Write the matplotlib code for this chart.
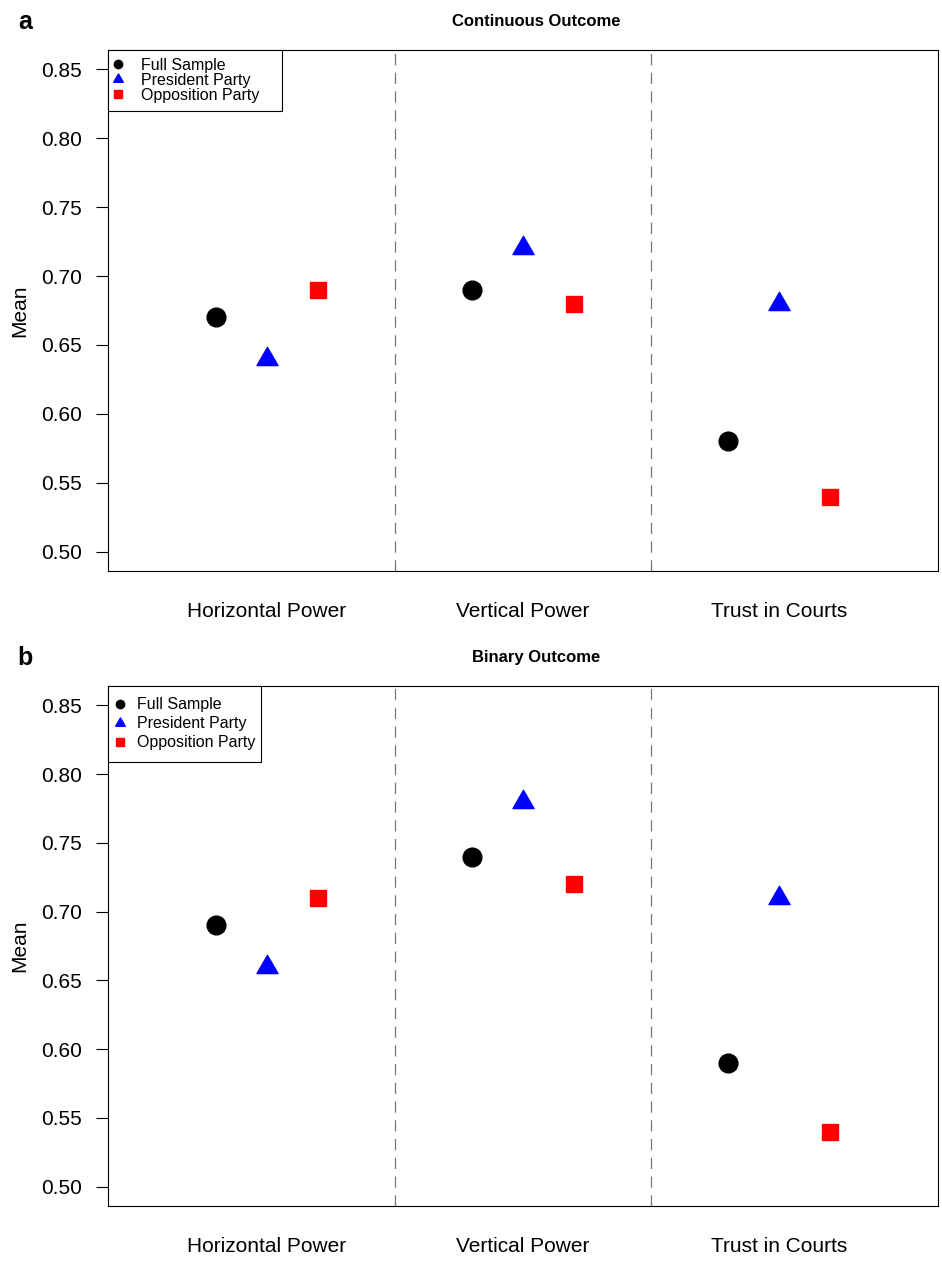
import matplotlib
matplotlib.use("Agg")
import matplotlib.pyplot as plt
from matplotlib.lines import Line2D
from matplotlib.path import Path

plt.rcParams['font.family'] = ['Liberation Sans', 'DejaVu Sans']

# valores
groups = ['Horizontal Power', 'Vertical Power', 'Trust in Courts']
cont_full = [0.67, 0.69, 0.58]
cont_pres = [0.64, 0.72, 0.68]
cont_opp = [0.69, 0.68, 0.54]
bin_full = [0.69, 0.74, 0.59]
bin_pres = [0.66, 0.78, 0.71]
bin_opp = [0.71, 0.72, 0.54]
yticks = [0.50, 0.55, 0.60, 0.65, 0.70, 0.75, 0.80, 0.85]
series_names = ['Full Sample', 'President Party', 'Opposition Party']

# triangulo equilatero centrado en el centroide (como pch 17 de R)
tri = Path([(-1, -0.5774), (1, -0.5774), (0, 1.1547), (-1, -0.5774)],
           [Path.MOVETO, Path.LINETO, Path.LINETO, Path.CLOSEPOLY])

x = [1, 2, 3]
off = 0.2

fig = plt.figure(figsize=(9.42, 12.62), dpi=100)
W, H = 942, 1262

def panel(top, bottom, full, pres, opp, title, letter, leg_w, lsp, bpad, hl, htp):
    ax = fig.add_axes([108 / W, 1 - bottom / H, 830 / W, (bottom - top) / H])
    ax.plot([v - off for v in x], full, 'o', color='black', ms=13.5, ls='none')
    ax.plot(x, pres, marker=tri, color='blue', ms=17.5, ls='none')
    ax.plot([v + off for v in x], opp, 's', color='red', ms=11.5, ls='none')
    for d in [1.5, 2.5]:
        ax.axvline(d, color='#777777', lw=0.9, dashes=(9, 6))
    ax.set_xlim(0.38, 3.62)
    ax.set_ylim(0.486, 0.864)
    ax.set_yticks(yticks)
    ax.set_yticklabels(['%.2f' % v for v in yticks])
    ax.set_xticks(x)
    ax.set_xticklabels(groups)
    ax.tick_params(axis='y', direction='out', length=8.5, width=0.8, pad=10.5, labelsize=15)
    ax.tick_params(axis='x', length=0, pad=22, labelsize=15)
    for s in ax.spines.values():
        s.set_linewidth(0.8)
    handles = [Line2D([], [], marker='o', color='black', ms=6, ls='none'),
               Line2D([], [], marker=tri, color='blue', ms=8, ls='none'),
               Line2D([], [], marker='s', color='red', ms=5.5, ls='none')]
    leg = ax.legend(handles, series_names, loc='upper left',
                    bbox_to_anchor=(0, 0, leg_w / 830, 1), mode='expand',
                    borderaxespad=0, fancybox=False, framealpha=1,
                    edgecolor='black', fontsize=11.5, labelspacing=lsp,
                    borderpad=bpad, handlelength=hl, handletextpad=htp)
    leg.get_frame().set_linewidth(0.8)
    fig.text(536 / W, 1 - (top - 28) / H, title, ha='center', va='center',
             fontsize=12, fontweight='bold')
    fig.text(25 / W, 1 - (top - 28) / H, letter, ha='center', va='center',
             fontsize=18, fontweight='bold')
    fig.text(20 / W, 1 - ((top + bottom) / 2) / H, 'Mean', ha='center',
             va='center', rotation=90, fontsize=15)
    return ax

panel(50, 571, cont_full, cont_pres, cont_opp, 'Continuous Outcome', 'a',
      174, 0.0, 0.5, 0.25, 1.31)
panel(686, 1206, bin_full, bin_pres, bin_opp, 'Binary Outcome', 'b',
      153, 0.25, 0.72, 0.06, 1.03)

fig.savefig('out.png', dpi=100)
